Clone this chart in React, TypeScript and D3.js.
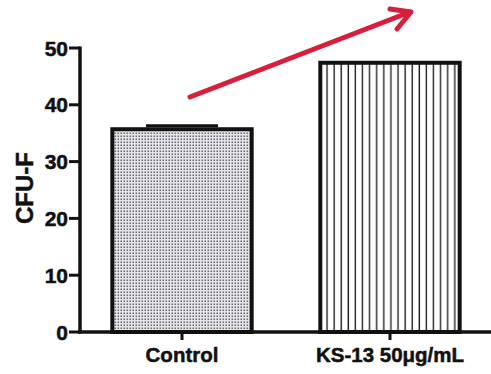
import React from "react";
import * as d3 from "d3";

const categories = ["Control", "KS-13 50μg/mL"];
const values = [35.7, 47.4];
const errors = [0.6, 0];
const yTicks = [0, 10, 20, 30, 40, 50];
const yLabel = "CFU-F";

export default function App() {
  const W = 491, H = 374;
  const y = d3.scaleLinear().domain([0, 50]).range([332, 48]);
  const x = d3.scaleBand<string>().domain(categories).range([78, 494]).paddingInner(0.33).paddingOuter(0.165);
  const font = "'Liberation Sans', Arial, sans-serif";
  const fills = ["url(#dots)", "url(#vlines)"];
  const txt = { fontFamily: font, fontWeight: "bold" as const, fill: "#111", stroke: "#111", strokeWidth: 0.5 };
  return (
    <svg width={W} height={H} style={{ position: "absolute", left: 0, top: 0, background: "#fff" }}>
      <defs>
        <pattern id="dots" width={3} height={3} patternUnits="userSpaceOnUse">
          <rect width={3} height={3} fill="#e4e4ea" />
          <rect x={0.5} y={0.5} width={1.5} height={1.5} fill="#6a6a72" />
        </pattern>
        <pattern id="vlines" width={7.1} height={10} patternUnits="userSpaceOnUse" x={x("KS-13 50μg/mL")! + 2}>
          <rect width={7.1} height={10} fill="#fff" />
          <rect x={4} y={0} width={1.4} height={10} fill="#222" />
        </pattern>
      </defs>
      {categories.map((c, i) => {
        const x0 = x(c)!;
        const bw = x.bandwidth();
        const cx = x0 + bw / 2;
        return (
          <g key={c}>
            {errors[i] > 0 && (
              <line x1={cx - 36} x2={cx + 36} y1={y(values[i] + errors[i])} y2={y(values[i] + errors[i])} stroke="#111" strokeWidth={3} />
            )}
            <rect x={x0} y={y(values[i])} width={bw} height={y(0) - y(values[i])} fill={fills[i]} stroke="#111" strokeWidth={4} />
          </g>
        );
      })}
      {/* y axis */}
      <line x1={80} x2={80} y1={y(50) - 1.5} y2={y(0) + 1.5} stroke="#111" strokeWidth={3.5} />
      {yTicks.map((t) => (
        <g key={t}>
          <line x1={69} x2={80} y1={y(t)} y2={y(t)} stroke="#111" strokeWidth={3} />
          <text x={68} y={y(t)} dy="0.36em" textAnchor="end" fontSize={21} {...txt}>{t}</text>
        </g>
      ))}
      {/* x axis */}
      <line x1={78} x2={491} y1={y(0)} y2={y(0)} stroke="#111" strokeWidth={3.5} />
      {categories.map((c) => {
        const cx = x(c)! + x.bandwidth() / 2;
        return (
          <g key={c}>
            <line x1={cx} x2={cx} y1={y(0)} y2={y(0) + 8} stroke="#111" strokeWidth={3} />
            <text x={cx} y={362} textAnchor="middle" fontSize={20.5} {...txt}>{c}</text>
          </g>
        );
      })}
      <text transform={`translate(33,188) rotate(-90)`} textAnchor="middle" fontSize={24} {...txt}>{yLabel}</text>
      {/* red arrow */}
      <g stroke="#d81e3a" strokeWidth={5} strokeLinecap="round" strokeLinejoin="round" fill="none">
        <line x1={190} y1={97} x2={410} y2={12} />
        <polyline points="390,9 411,12 397,29" />
      </g>
    </svg>
  );
}
